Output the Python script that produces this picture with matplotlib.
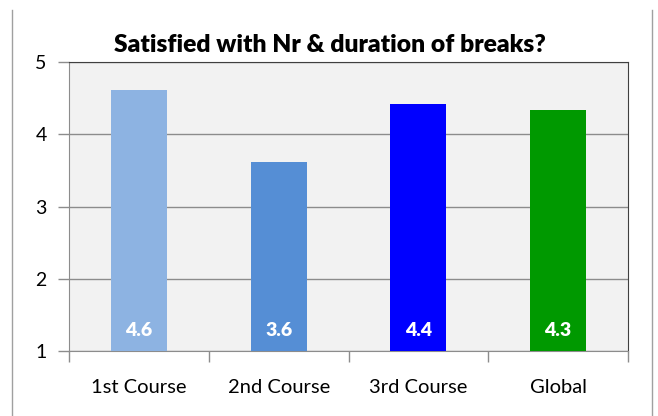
import matplotlib
matplotlib.use("Agg")
import matplotlib.pyplot as plt
from matplotlib.lines import Line2D

categories = ["1st Course", "2nd Course", "3rd Course", "Global"]
values = [4.61, 3.62, 4.42, 4.34]
labels = ["4.6", "3.6", "4.4", "4.3"]
colors = ["#8DB3E2", "#558ED5", "#0000FF", "#009900"]
yticks = [1, 2, 3, 4, 5]
title = "Satisfied with Nr & duration of breaks?"

plt.rcParams['font.family'] = ['Lato', 'DejaVu Sans']

W, H = 658, 416
fig = plt.figure(figsize=(W/100, H/100), dpi=100)
fig.patch.set_facecolor("white")
ax = fig.add_axes([69/W, 1-351/H, (628-69)/W, (351-62)/H])
ax.set_facecolor("#F2F2F2")

x = list(range(len(categories)))
ax.bar(x, [v - 1 for v in values], bottom=1, width=0.4, color=colors, zorder=3)
for xi, lab in zip(x, labels):
    ax.text(xi, 1.29, lab, ha="center", va="center", color="white",
            fontsize=14, fontweight="heavy", zorder=4)

ax.set_xlim(-0.5, len(categories) - 0.5)
ax.set_ylim(1, 5)
ax.set_yticks(yticks)
ax.set_yticklabels([str(t) for t in yticks], fontsize=14)
ax.yaxis.grid(True, color="#8C8C8C", linewidth=1, zorder=1)
ax.set_xticks(x)
ax.set_xticklabels(categories, fontsize=14.5)
ax.tick_params(axis="x", length=0, pad=20)
ax.set_xticks([i - 0.5 for i in range(len(categories) + 1)], minor=True)
ax.tick_params(axis="x", which="minor", length=8, color="#8C8C8C", width=1)
ax.tick_params(axis="y", length=8, color="#8C8C8C", width=1, pad=8)

for s in ["left", "bottom"]:
    ax.spines[s].set_color("#8C8C8C")
for s in ["top", "right"]:
    ax.spines[s].set_color("#404040")

fig.text((117+543)/2/W, 1-45/H, title, ha="center", va="center",
         fontsize=17.7, fontweight="heavy")

fig.add_artist(Line2D([12/W, 12/W], [0, 1-10/H], color="#A0A0A0", lw=1))
fig.add_artist(Line2D([652/W, 652/W], [0, 1-10/H], color="#A0A0A0", lw=1))

fig.savefig("out.png", dpi=100)
